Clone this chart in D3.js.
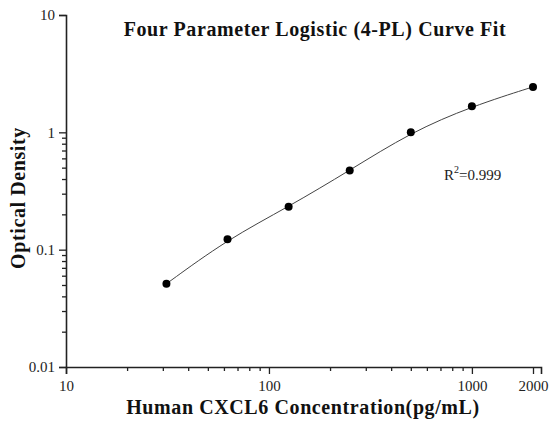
<!DOCTYPE html>
<html>
<head>
<meta charset="utf-8">
<script src="https://cdn.jsdelivr.net/npm/d3@7"></script>
<style>
  body { margin: 0; background: #fff; }
  text { font-family: "Liberation Serif", "Times New Roman", serif; }
</style>
</head>
<body>
<script>
// concentrations (pg/mL) and measured optical density
var concentration = [31.25, 62.5, 125, 250, 500, 1000, 2000];
var density = [0.0512, 0.1225, 0.232, 0.474, 1.0, 1.667, 2.44];
var xTickValues = [10, 100, 1000, 2000];
var yTickValues = [0.01, 0.1, 1, 10];

var margin = { top: 15, right: 9, bottom: 56, left: 66 };
var width = 550 - margin.left - margin.right;
var height = 423 - margin.top - margin.bottom;

var svg = d3.select("body").append("svg")
    .attr("width", 550)
    .attr("height", 423);

var g = svg.append("g")
    .attr("transform", "translate(" + margin.left + "," + margin.top + ")");

var x = d3.scaleLog()
    .domain([10, 2190])
    .range([0, width]);

var y = d3.scaleLog()
    .domain([0.01, 10])
    .range([height, 0]);

// minor ticks 2..9 in each decade
function minors(lo, hi) {
  var out = [];
  for (var p = lo; p < hi; p *= 10) {
    for (var k = 2; k <= 9; k++) out.push(p * k);
  }
  return out;
}

var xMinor = minors(10, 1000).filter(function(v) { return xTickValues.indexOf(v) < 0; });
var yMinor = minors(0.01, 1);

g.append("g")
    .attr("transform", "translate(0," + height + ")")
    .call(d3.axisBottom(x).tickValues(xMinor).tickSize(4).tickFormat(""))
    .call(function(s) { s.select(".domain").remove(); });

g.append("g")
    .call(d3.axisLeft(y).tickValues(yMinor).tickSize(4).tickFormat(""))
    .call(function(s) { s.select(".domain").remove(); });

g.append("g")
    .attr("transform", "translate(0," + height + ")")
    .call(d3.axisBottom(x).tickValues(xTickValues).tickSize(7).tickPadding(6)
      .tickFormat(d3.format("d")));

g.append("g")
    .call(d3.axisLeft(y).tickValues(yTickValues).tickSize(7).tickPadding(4)
      .tickFormat(function(d) { return d >= 1 ? d3.format("d")(d) : String(d); }));

g.selectAll(".tick line").attr("stroke", "#222").attr("stroke-width", 1.3);
g.selectAll(".domain").attr("stroke", "#222").attr("stroke-width", 1.6);
g.selectAll(".tick text")
    .attr("font-family", "Liberation Serif")
    .attr("font-size", 15)
    .attr("fill", "#222");

// fitted curve (smoothed through the standards)
var line = d3.line()
    .x(function(d, i) { return x(concentration[i]); })
    .y(function(d) { return y(d); })
    .curve(d3.curveBasis);

g.append("path")
    .datum(density)
    .attr("d", line)
    .attr("fill", "none")
    .attr("stroke", "#444")
    .attr("stroke-width", 1);

g.selectAll(".dot")
    .data(density)
    .enter()
    .append("circle")
    .attr("class", "dot")
    .attr("cx", function(d, i) { return x(concentration[i]); })
    .attr("cy", function(d) { return y(d); })
    .attr("r", 4)
    .attr("fill", "#000");

// titles
svg.append("text")
    .attr("x", 315)
    .attr("y", 36)
    .attr("text-anchor", "middle")
    .attr("font-size", 20)
    .attr("font-weight", "bold")
    .attr("letter-spacing", 0.6)
    .attr("fill", "#111")
    .text("Four Parameter Logistic (4-PL) Curve Fit");

svg.append("text")
    .attr("x", 303)
    .attr("y", 414)
    .attr("text-anchor", "middle")
    .attr("font-size", 20)
    .attr("font-weight", "bold")
    .attr("letter-spacing", 0.6)
    .attr("fill", "#111")
    .text("Human CXCL6 Concentration(pg/mL)");

svg.append("text")
    .attr("transform", "translate(25,198) rotate(-90)")
    .attr("text-anchor", "middle")
    .attr("font-size", 20)
    .attr("font-weight", "bold")
    .attr("letter-spacing", 0.6)
    .attr("fill", "#111")
    .text("Optical Density");

var r2 = svg.append("text")
    .attr("x", 444)
    .attr("y", 180)
    .attr("font-size", 15)
    .attr("fill", "#222");
r2.append("tspan").text("R");
r2.append("tspan").attr("dy", -7).attr("font-size", 10).text("2");
r2.append("tspan").attr("dy", 7).text("=0.999");
</script>
</body>
</html>
